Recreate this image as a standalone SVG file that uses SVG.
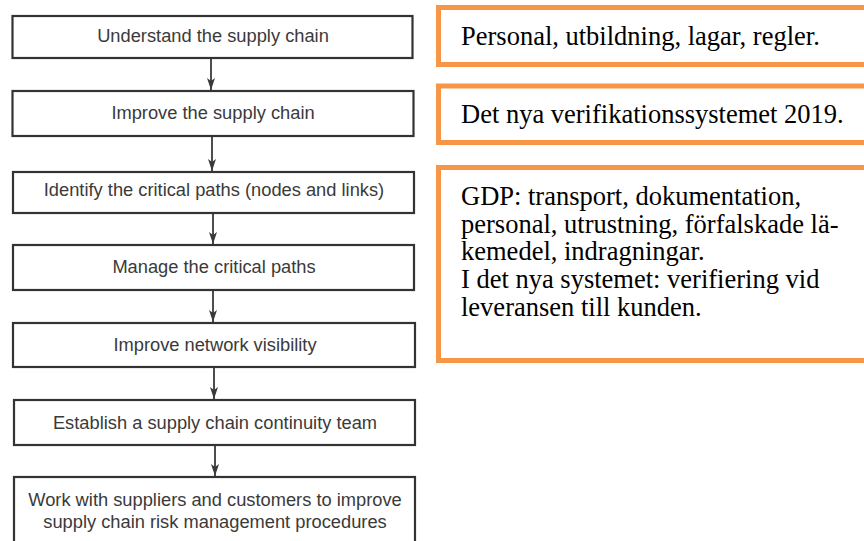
<svg xmlns="http://www.w3.org/2000/svg" width="864" height="541" viewBox="0 0 864 541">
  <defs>
    <style>
      .step rect { fill: #ffffff; stroke: #333333; stroke-width: 2.2; }
      .step text { font-family: "Liberation Sans", Arial, sans-serif; font-size: 18.3px; fill: #3a3a3a; text-anchor: middle; }
      .note rect { fill: #ffffff; stroke: #f79646; stroke-width: 5; }
      .note text { font-family: "Liberation Serif", "Times New Roman", serif; font-size: 26.5px; fill: #000000; }
      .flow line { stroke: #3a3a3a; stroke-width: 1.8; }
    </style>
    <marker id="arrowhead" viewBox="0 0 12 8" refX="12" refY="4" markerWidth="12" markerHeight="8" markerUnits="userSpaceOnUse" orient="auto">
      <path d="M0,0 L12,4 L0,8 L3,4 Z" fill="#3a3a3a"/>
    </marker>
  </defs>

  <rect width="864" height="541" fill="#ffffff"/>

  <!-- Flowchart connectors -->
  <g id="connectors" class="flow">
    <line x1="211" y1="59" x2="211" y2="90" marker-end="url(#arrowhead)"/>
    <line x1="212" y1="136" x2="212" y2="171" marker-end="url(#arrowhead)"/>
    <line x1="213" y1="213" x2="213" y2="244" marker-end="url(#arrowhead)"/>
    <line x1="213" y1="290" x2="213" y2="322" marker-end="url(#arrowhead)"/>
    <line x1="214" y1="367" x2="214" y2="399" marker-end="url(#arrowhead)"/>
    <line x1="215" y1="445" x2="215" y2="476" marker-end="url(#arrowhead)"/>
  </g>

  <!-- Flowchart steps -->
  <g id="step-understand" class="step">
    <rect x="12.5" y="16" width="400" height="42"/>
    <text x="213" y="42">Understand the supply chain</text>
  </g>
  <g id="step-improve" class="step">
    <rect x="12.5" y="91" width="401" height="45"/>
    <text x="213" y="119">Improve the supply chain</text>
  </g>
  <g id="step-identify" class="step">
    <rect x="13" y="172" width="401" height="41"/>
    <text x="214" y="196">Identify the critical paths (nodes and links)</text>
  </g>
  <g id="step-manage" class="step">
    <rect x="13" y="245" width="401" height="45"/>
    <text x="214" y="273">Manage the critical paths</text>
  </g>
  <g id="step-visibility" class="step">
    <rect x="13" y="323" width="402" height="44"/>
    <text x="215" y="351">Improve network visibility</text>
  </g>
  <g id="step-team" class="step">
    <rect x="14" y="400" width="401" height="45"/>
    <text x="215" y="429">Establish a supply chain continuity team</text>
  </g>
  <g id="step-work" class="step">
    <rect x="14" y="477" width="401" height="80"/>
    <text x="215" y="506">Work with suppliers and customers to improve</text>
    <text x="215" y="528">supply chain risk management procedures</text>
  </g>

  <!-- Notes -->
  <g id="note-personal" class="note">
    <rect x="438.5" y="7.5" width="440" height="57"/>
    <text x="461" y="45">Personal, utbildning, lagar, regler.</text>
  </g>
  <g id="note-verification" class="note">
    <rect x="438.5" y="86" width="440" height="56.5"/>
    <text x="461" y="123">Det nya verifikationssystemet 2019.</text>
  </g>
  <g id="note-gdp" class="note">
    <rect x="438.5" y="167.5" width="440" height="193"/>
    <text x="461" y="205">GDP: transport, dokumentation,</text>
    <text x="461" y="233">personal, utrustning, förfalskade lä-</text>
    <text x="461" y="260">kemedel, indragningar.</text>
    <text x="461" y="288">I det nya systemet: verifiering vid</text>
    <text x="461" y="316">leveransen till kunden.</text>
  </g>
</svg>
